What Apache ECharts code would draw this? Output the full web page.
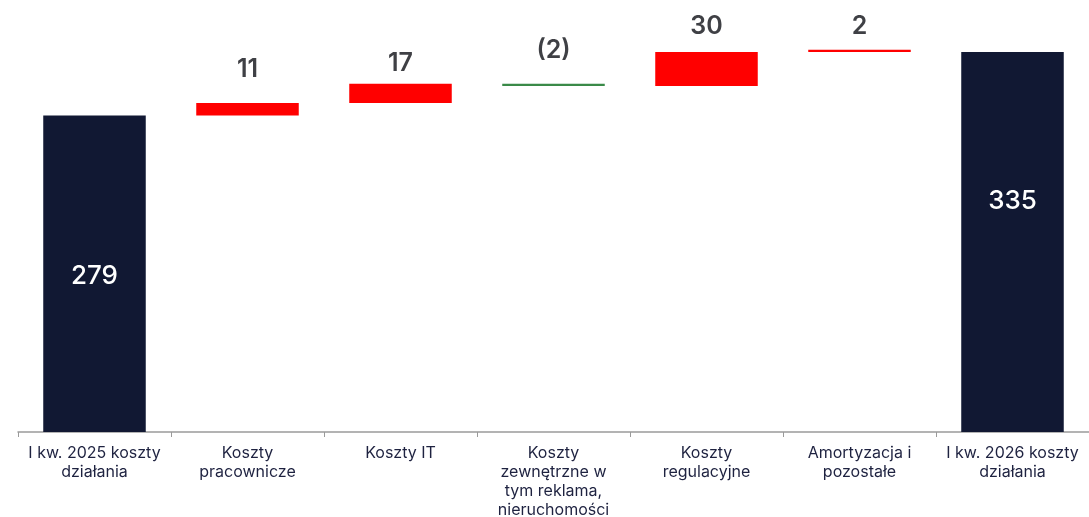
<!DOCTYPE html>
<html><head><meta charset="utf-8">
<script src="https://cdn.jsdelivr.net/npm/echarts@6/dist/echarts.min.js"></script>
<style>html,body{margin:0;padding:0;background:#fff}#c{width:1089px;height:517px}</style>
</head><body><div id="c"></div>
<script>
const categories = ["I kw. 2025 koszty\ndziałania", "Koszty\npracownicze", "Koszty IT", "Koszty\nzewnętrzne w\ntym reklama,\nnieruchomości", "Koszty\nregulacyjne", "Amortyzacja i\npozostałe", "I kw. 2026 koszty\ndziałania"];
const startTotal = 279;
const deltas = [11, 17, -2, 30, 2];
const endTotal = 335;
const deltaLabels = ["11", "17", "(2)", "30", "2"];

// styling (not data)
const labelGap = [21, 8, 21, 13, 11];
const NAVY = '#111833', RED = '#ff0000', GREEN = '#3a8a48';

const helper = [], visible = [];
helper.push(0);
visible.push({value: startTotal, itemStyle:{color:NAVY}, label:{show:true, position:'inside', offset:[0,2], formatter:String(startTotal), color:'#fff', fontSize:26, fontFamily:'Inter', fontWeight:500}});
let cum = startTotal;
deltas.forEach((d, i) => {
  const lo = d >= 0 ? cum : cum + d;
  helper.push(lo);
  visible.push({value: Math.abs(d), itemStyle:{color: d >= 0 ? RED : GREEN},
    label:{show:true, position:'top', distance: labelGap[i], formatter: deltaLabels[i], color:'#3f4045', fontSize:25, fontFamily:'Inter', fontWeight:600}});
  cum += d;
});
helper.push(0);
visible.push({value: endTotal, itemStyle:{color:NAVY}, label:{show:true, position:'insideTop', distance:136, formatter:String(endTotal), color:'#fff', fontSize:26, fontFamily:'Inter', fontWeight:500}});

const chart = echarts.init(document.getElementById('c'), null, {renderer:'canvas'});
chart.setOption({
  animation:false,
  grid:{left:18, right:0, top:1, bottom:85, containLabel:false, outerBoundsMode:'none'},
  xAxis:{type:'category', data:categories,
    axisLine:{lineStyle:{color:'#9a9a9a', width:1.5}},
    axisTick:{show:true, length:5, lineStyle:{color:'#9a9a9a'}},
    axisLabel:{interval:0, margin:12, color:'#1e2240', fontSize:16, fontFamily:'Inter', lineHeight:19}},
  yAxis:{type:'value', min:0, max:380, show:false, splitLine:{show:false}},
  series:[
    {type:'bar', stack:'w', data:helper, itemStyle:{color:'transparent'}, barWidth:'67%', silent:true},
    {type:'bar', stack:'w', data:visible, barWidth:'67%'}
  ]
});
</script></body></html>
